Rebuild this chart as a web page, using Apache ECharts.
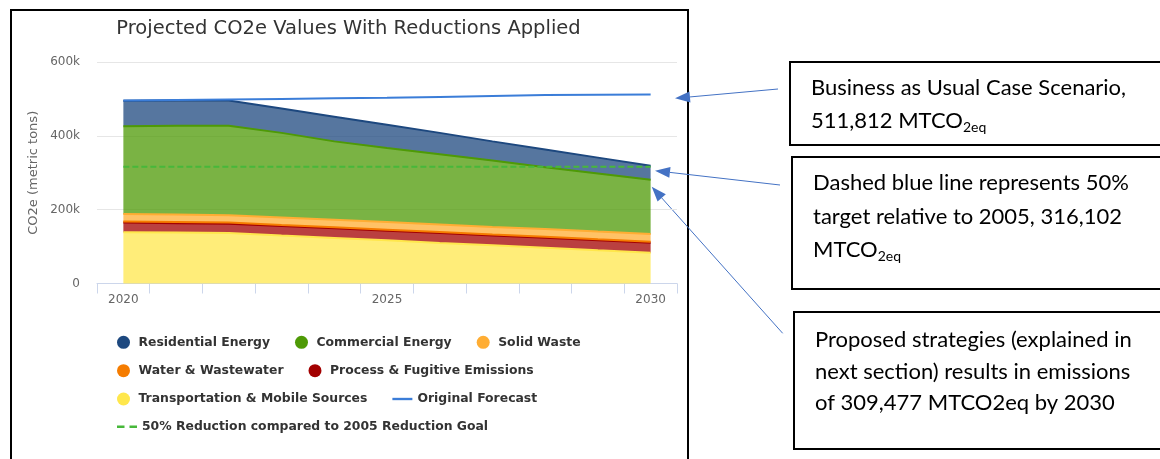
<!DOCTYPE html>
<html>
<head>
<meta charset="utf-8">
<title>Projected CO2e Values With Reductions Applied</title>
<script src="https://cdn.jsdelivr.net/npm/echarts/dist/echarts.min.js"></script>
<style>
  html, body { margin: 0; padding: 0; background: #fff; }
  #main { width: 1160px; height: 459px; }
</style>
</head>
<body>
<div id="main"></div>
<script>
// years on the x axis
var years = ['2020', '2021', '2022', '2023', '2024', '2025', '2026', '2027', '2028', '2029', '2030']
var yTicks = [0, 200000, 400000, 600000]

// stacked sectors, metric tons CO2e
var transportation = [139000, 138000, 137000, 130000, 123500, 117000, 110000, 103500, 97000, 90000, 83500]
var processFugitive = [26000, 25500, 25000, 25500, 26000, 26000, 26500, 26500, 27000, 27000, 27000]
var waterWastewater = [3000, 3000, 3000, 2900, 2900, 2800, 2800, 2700, 2700, 2600, 2600]
var solidWaste = [20500, 20500, 20000, 20500, 20500, 20500, 20500, 20500, 21000, 21000, 21000]
var commercialEnergy = [237500, 240000, 242500, 229100, 212100, 200700, 190200, 179800, 167300, 157400, 146900]
var residentialEnergy = [69000, 68500, 68500, 66000, 67000, 63000, 58000, 52000, 48000, 43000, 38000]

// lines
var originalForecast = [495500, 497000, 498500, 500000, 501500, 503000, 505500, 508000, 510500, 511500, 511812]
var reductionGoal = [316102, 316102, 316102, 316102, 316102, 316102, 316102, 316102, 316102, 316102, 316102]

var myChart = echarts.init(document.getElementById('main'))

function areaSeries(name, color, values) {
  return {
    name: name,
    type: 'line',
    stack: 'total',
    data: values,
    symbol: 'none',
    color: color,
    lineStyle: { width: 2, color: color },
    areaStyle: { color: color, opacity: 0.75 },
    emphasis: { disabled: true },
  }
}

// arrow = thin line + filled head
function arrow(x1, y1, x2, y2) {
  var len = 15, half = 5.5
  var dx = x2 - x1, dy = y2 - y1
  var d = Math.sqrt(dx * dx + dy * dy)
  var ux = dx / d, uy = dy / d
  var bx = x2 - ux * len, by = y2 - uy * len
  return [
    { type: 'line', shape: { x1: x1, y1: y1, x2: bx, y2: by }, style: { stroke: '#4472c4', lineWidth: 1 } },
    {
      type: 'polygon',
      shape: { points: [[x2, y2], [bx - uy * half, by + ux * half], [bx + uy * half, by - ux * half]] },
      style: { fill: '#4472c4' },
    },
  ]
}

var boxFont = '22px Lato'
var subRich = {
  sub: { fontSize: 14, fontFamily: 'Lato', verticalAlign: 'top', padding: [12, 0, 0, 0], fill: '#000' },
}
function boxText(x, y, text) {
  return {
    type: 'text',
    x: x,
    y: y,
    style: { text: text, font: boxFont, fill: '#000', verticalAlign: 'middle', rich: subRich },
  }
}
function box(x, y, h) {
  return { type: 'rect', shape: { x: x, y: y, width: 400, height: h }, style: { fill: 'none', stroke: '#000', lineWidth: 2 } }
}

// legend icons for the two plain lines
var solidIcon = 'path://M0,0H17V2H0Z'
var dashIcon = 'path://M0,0H6V2H0Z M10,0H16V2H10Z'

var legendText = { fontFamily: 'DejaVu Sans', fontWeight: 'bold', fontSize: 12.4, color: '#333' }
function legendRow(top, items) {
  return {
    left: 117,
    top: top,
    padding: 0,
    itemGap: 25,
    itemWidth: 20,
    itemHeight: 13,
    selectedMode: false,
    textStyle: legendText,
    data: items,
  }
}

var graphics = [
  // frame of the chart picture
  { type: 'rect', shape: { x: 11, y: 10, width: 677, height: 470 }, style: { fill: 'none', stroke: '#000', lineWidth: 2 } },
  {
    type: 'text',
    x: 348.5,
    y: 29,
    style: { text: 'Projected CO2e Values With Reductions Applied', font: '19.5px DejaVu Sans', fill: '#333', align: 'center', verticalAlign: 'middle' },
  },
  box(790, 62, 83),
  box(792, 157, 132),
  box(794, 312, 137),
  boxText(811, 88, 'Business as Usual Case Scenario,'),
  boxText(811, 121, '511,812 MTCO{sub|2eq}'),
  boxText(813, 183, 'Dashed blue line represents 50%'),
  boxText(813, 217, 'target relative to 2005, 316,102'),
  boxText(813, 250, 'MTCO{sub|2eq}'),
  boxText(815, 340, 'Proposed strategies (explained in'),
  boxText(815, 372, 'next section) results in emissions'),
  boxText(815, 403, 'of 309,477 MTCO2eq by 2030'),
]
graphics = graphics.concat(arrow(778, 89, 675, 98.3))
graphics = graphics.concat(arrow(780, 185, 655, 170.7))
graphics = graphics.concat(arrow(782.7, 333.3, 651.7, 186.7))

myChart.setOption({
  animation: false,
  textStyle: { fontFamily: 'DejaVu Sans' },
  grid: { left: 97, right: 483, top: 62, bottom: 175.5, containLabel: false },
  legend: [
    legendRow(335.8, [
      { name: 'Residential Energy', icon: 'circle' },
      { name: 'Commercial Energy', icon: 'circle' },
      { name: 'Solid Waste', icon: 'circle' },
    ]),
    legendRow(364.2, [
      { name: 'Water & Wastewater', icon: 'circle' },
      { name: 'Process & Fugitive Emissions', icon: 'circle' },
    ]),
    legendRow(392.5, [
      { name: 'Transportation & Mobile Sources', icon: 'circle' },
      { name: 'Original Forecast', icon: solidIcon, itemStyle: { color: '#3b7dd8' } },
    ]),
    legendRow(420.8, [{ name: '50% Reduction compared to 2005 Reduction Goal', icon: dashIcon, itemStyle: { color: '#47b83a' } }]),
  ],
  xAxis: {
    type: 'category',
    data: years,
    boundaryGap: true,
    axisLine: { lineStyle: { color: '#ccd6eb', width: 1 } },
    axisTick: { show: true, interval: 0, length: 10, lineStyle: { color: '#ccd6eb' } },
    axisLabel: { interval: 4, color: '#666', fontSize: 12, margin: 10 },
    splitLine: { show: false },
  },
  yAxis: {
    type: 'value',
    min: yTicks[0],
    max: yTicks[yTicks.length - 1],
    interval: yTicks[1] - yTicks[0],
    name: 'CO2e (metric tons)',
    nameLocation: 'middle',
    nameRotate: 90,
    nameGap: 57,
    nameTextStyle: { color: '#666', fontSize: 13 },
    axisLine: { show: false },
    axisTick: { show: false },
    axisLabel: {
      color: '#666',
      fontSize: 12,
      margin: 17,
      formatter: function (v) {
        return v === 0 ? '0' : v / 1000 + 'k'
      },
    },
    splitLine: { lineStyle: { color: '#e6e6e6', width: 1 } },
  },
  series: [
    areaSeries('Transportation & Mobile Sources', '#ffe74c', transportation),
    areaSeries('Process & Fugitive Emissions', '#a30000', processFugitive),
    areaSeries('Water & Wastewater', '#f57c00', waterWastewater),
    areaSeries('Solid Waste', '#ffad33', solidWaste),
    areaSeries('Commercial Energy', '#4e9a06', commercialEnergy),
    areaSeries('Residential Energy', '#1d487f', residentialEnergy),
    {
      name: 'Original Forecast',
      type: 'line',
      data: originalForecast,
      symbol: 'none',
      color: '#3b7dd8',
      lineStyle: { width: 2, color: '#3b7dd8' },
      z: 3,
    },
    {
      name: '50% Reduction compared to 2005 Reduction Goal',
      type: 'line',
      data: reductionGoal,
      symbol: 'none',
      color: '#47b83a',
      lineStyle: { width: 2, color: '#47b83a', type: [6, 3] },
      z: 3,
    },
  ],
  graphic: graphics,
})
</script>
</body>
</html>
